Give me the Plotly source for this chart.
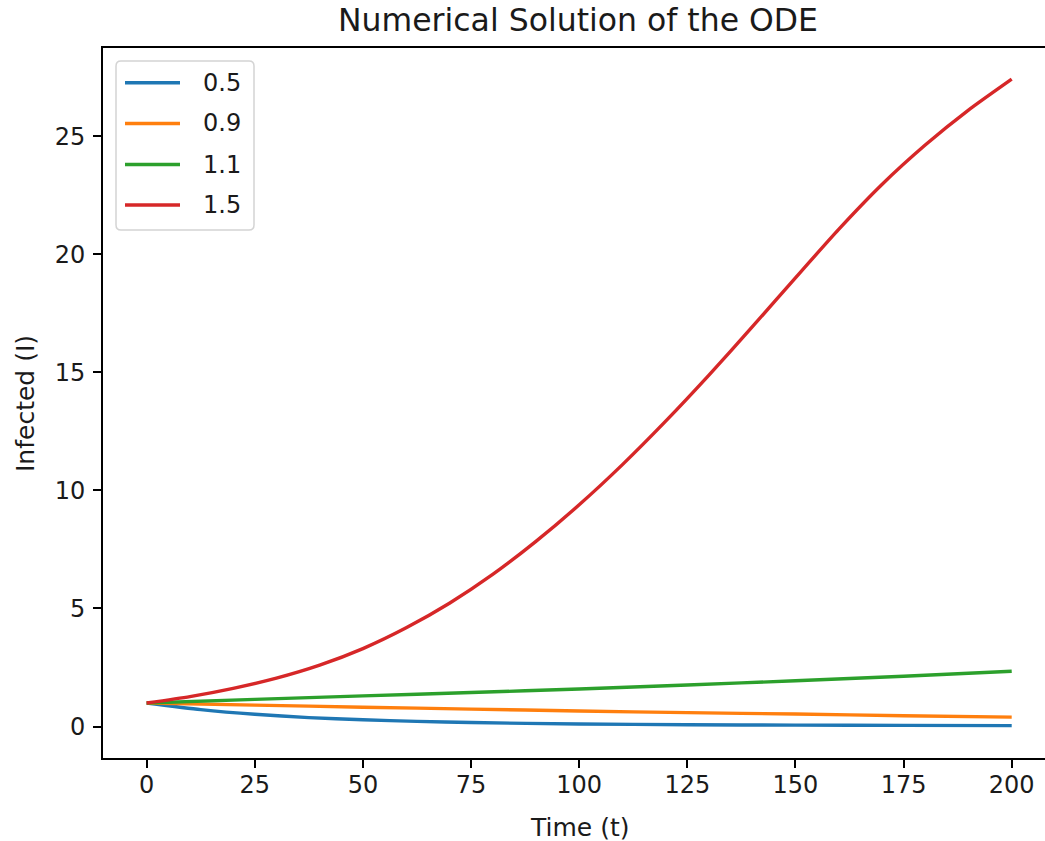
import plotly.graph_objects as go

# Time points (t) and infected (I) values
t_red = [0, 10, 20, 30, 40, 50, 60, 70, 80, 90, 100, 110, 120, 130, 140, 150, 160, 170, 180, 190, 200]
i_red = [1.00, 1.27, 1.62, 2.05, 2.60, 3.30, 4.18, 5.22, 6.44, 7.84, 9.39, 11.09, 12.93, 14.88, 16.92,
         19.00, 21.05, 22.95, 24.62, 26.10, 27.41]

t_green = [0, 25, 50, 75, 100, 125, 150, 175, 200]
i_green = [1.00, 1.15, 1.30, 1.44, 1.59, 1.76, 1.94, 2.13, 2.34]

t_orange = [0, 25, 50, 75, 100, 125, 150, 175, 200]
i_orange = [1.00, 0.91, 0.82, 0.74, 0.66, 0.59, 0.53, 0.46, 0.40]

t_blue = [0, 12.5, 25, 37.5, 50, 62.5, 75, 100, 125, 150, 175, 200]
i_blue = [1.00, 0.72, 0.52, 0.38, 0.29, 0.22, 0.17, 0.11, 0.08, 0.06, 0.05, 0.04]

series_names = ["0.5", "0.9", "1.1", "1.5"]
series_t = [t_blue, t_orange, t_green, t_red]
series_i = [i_blue, i_orange, i_green, i_red]
series_colors = ["#1f77b4", "#ff7f0e", "#2ca02c", "#d62728"]

x_ticks = [0, 25, 50, 75, 100, 125, 150, 175, 200]
y_ticks = [0, 5, 10, 15, 20, 25]

FONT = "DejaVu Sans"
TXT = "#1a1a1a"

# plot-area geometry in pixels (layout/styling)
L, T, B, W = 103, 48, 758, 942
H = B - T


def px(xp):
    return (xp - L) / W


def py(yp):
    return (B - yp) / H


fig = go.Figure()
for name, tt, ii, col in zip(series_names, series_t, series_i, series_colors):
    fig.add_trace(go.Scatter(
        x=tt, y=ii, mode="lines", name=name, showlegend=False,
        line=dict(color=col, width=3.4, shape="spline", smoothing=0.6),
    ))

# Manual matplotlib-style legend (rounded box, long handles)
shapes = []
x0, x1, y0, y1, r = px(116), px(254), py(61), py(230), 5
rx, ry = r / W, r / H
box_path = (f"M {x0+rx},{y0} L {x1-rx},{y0} Q {x1},{y0} {x1},{y0-ry} "
            f"L {x1},{y1+ry} Q {x1},{y1} {x1-rx},{y1} L {x0+rx},{y1} "
            f"Q {x0},{y1} {x0},{y1+ry} L {x0},{y0-ry} Q {x0},{y0} {x0+rx},{y0} Z")
shapes.append(dict(type="path", path=box_path, xref="paper", yref="paper",
                   line=dict(color="#d4d4d4", width=1.5), fillcolor="rgba(255,255,255,0.8)",
                   layer="above"))
annotations = []
row_y = [82.7, 123.5, 164.5, 205]
for name, col, yy in zip(series_names, series_colors, row_y):
    shapes.append(dict(type="line", xref="paper", yref="paper",
                       x0=px(125), x1=px(180), y0=py(yy), y1=py(yy),
                       line=dict(color=col, width=3.4), layer="above"))
    annotations.append(dict(text=name, xref="paper", yref="paper",
                            x=px(201), y=py(yy), xanchor="left", yanchor="middle",
                            showarrow=False, font=dict(family=FONT, size=24, color=TXT)))

annotations += [
    dict(text="Time (t)", xref="paper", yref="paper",
         x=px(579), y=py(827),
         xanchor="center", yanchor="middle", showarrow=False,
         font=dict(family=FONT, size=25, color=TXT)),
    dict(text="Infected (I)", xref="paper", yref="paper",
         x=px(25), y=py(404), textangle=-90,
         xanchor="center", yanchor="middle", showarrow=False,
         font=dict(family=FONT, size=25, color=TXT)),
]

fig.update_layout(
    width=1045, height=841,
    margin=dict(l=L, r=0, t=T, b=841 - B),
    paper_bgcolor="white", plot_bgcolor="white",
    font=dict(family=FONT, size=24, color=TXT),
    showlegend=False,
    title=dict(
        text="Numerical Solution of the ODE",
        x=578 / 1045, xref="container", xanchor="center",
        y=1 - 20 / 841, yref="container", yanchor="middle",
        font=dict(family=FONT, size=31.5, color=TXT),
    ),
    xaxis=dict(
        range=[-10.1, 207.7], tickmode="array", tickvals=x_ticks,
        ticks="outside", ticklen=8, tickwidth=1.8, tickcolor="black",
        showline=True, linecolor="black", linewidth=1.8, mirror=True,
        showgrid=False, zeroline=False, ticklabelstandoff=-4,
        tickfont=dict(family=FONT, size=24, color=TXT),
    ),
    yaxis=dict(
        range=[-1.33, 28.73], tickmode="array", tickvals=y_ticks,
        ticks="outside", ticklen=8, tickwidth=1.8, tickcolor="black",
        showline=True, linecolor="black", linewidth=1.8, mirror=False,
        showgrid=False, zeroline=False, ticklabelstandoff=3,
        tickfont=dict(family=FONT, size=24, color=TXT),
    ),
    shapes=shapes,
    annotations=annotations,
)

fig.write_html("out.html")
